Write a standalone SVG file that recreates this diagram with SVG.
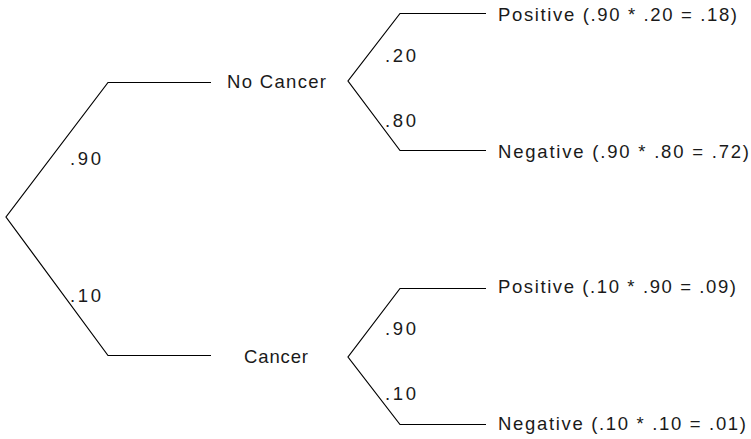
<svg xmlns="http://www.w3.org/2000/svg" width="751" height="439" viewBox="0 0 751 439">
<style>
.e{fill:none;stroke:#000;stroke-width:1.2}
.t{font-family:"Liberation Sans",Arial,sans-serif;font-size:18.5px;fill:#1a1a1a}
</style>
<rect width="751" height="439" fill="#fff"/>
<g id="connectors">
<polyline class="e" points="211,82.5 108,82.5 6,217 108,355.5 211,355.5"/>
<polyline class="e" points="486,13.5 400,13.5 348,81 400,150.5 486,150.5"/>
<polyline class="e" points="486,288.5 400,288.5 348,357 400,424.5 486,424.5"/>
</g>
<g id="edge-labels">
<text class="t" x="70" y="165" textLength="31" lengthAdjust="spacing">.90</text>
<text class="t" x="70" y="302" textLength="31" lengthAdjust="spacing">.10</text>
<text class="t" x="385" y="62" textLength="31" lengthAdjust="spacing">.20</text>
<text class="t" x="385" y="127" textLength="31" lengthAdjust="spacing">.80</text>
<text class="t" x="385" y="335" textLength="31" lengthAdjust="spacing">.90</text>
<text class="t" x="385" y="400" textLength="31" lengthAdjust="spacing">.10</text>
</g>
<g id="no-cancer"><text class="t" x="227" y="88" textLength="99" lengthAdjust="spacing">No Cancer</text></g>
<g id="cancer"><text class="t" x="244" y="363" textLength="64" lengthAdjust="spacing">Cancer</text></g>
<g id="nc-positive"><text class="t" x="498" y="21" textLength="239" lengthAdjust="spacing">Positive (.90 * .20 = .18)</text></g>
<g id="nc-negative"><text class="t" x="498" y="158" textLength="251" lengthAdjust="spacing">Negative (.90 * .80 = .72)</text></g>
<g id="c-positive"><text class="t" x="498" y="293" textLength="238" lengthAdjust="spacing">Positive (.10 * .90 = .09)</text></g>
<g id="c-negative"><text class="t" x="498" y="430" textLength="248" lengthAdjust="spacing">Negative (.10 * .10 = .01)</text></g>
</svg>
